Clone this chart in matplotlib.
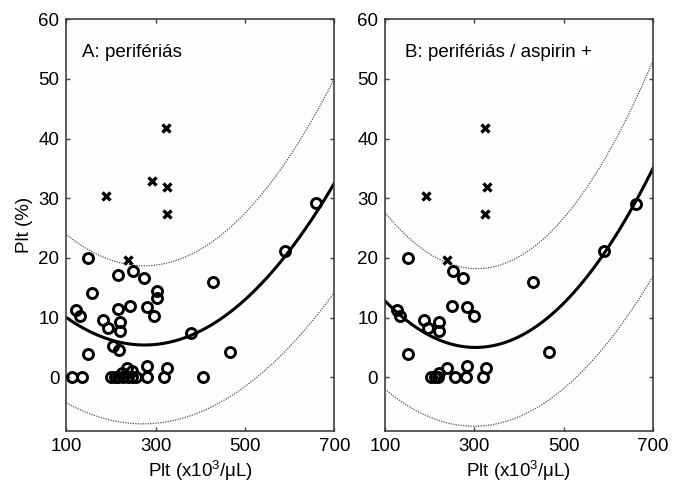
import numpy as np
import matplotlib
matplotlib.use('Agg')
import matplotlib.pyplot as plt

plt.rcParams['font.family'] = ['Liberation Sans', 'DejaVu Sans']
plt.rcParams['mathtext.fontset'] = 'custom'
plt.rcParams['mathtext.rm'] = 'Liberation Sans'
plt.rcParams['mathtext.default'] = 'regular'

# Panel A: circles (included) and crosses (excluded)
a_circ_x = [149, 216, 250, 274, 157, 304, 304, 429, 121, 130, 216, 242, 281, 296,
            183, 220, 194, 220, 379, 204, 218, 149, 466, 281, 325, 235, 248, 224,
            112, 136, 199, 209, 216, 227, 239, 246, 256, 281, 319, 405, 590, 660]
a_circ_y = [19.9, 17.2, 17.8, 16.7, 14.2, 14.4, 13.2, 16.0, 11.2, 10.2, 11.5, 11.9, 11.8, 10.2,
            9.6, 9.3, 8.2, 7.8, 7.4, 5.2, 4.6, 3.9, 4.3, 1.9, 1.5, 1.5, 1.1, 0.7,
            0, 0, 0, 0, 0, 0, 0, 0, 0, 0, 0, 0, 21.1, 29.2]
a_cross_x = [323, 189, 292, 326, 325, 239]
a_cross_y = [41.7, 30.3, 32.8, 31.8, 27.4, 19.7]

# Panel B
b_circ_x = [151, 253, 275, 432, 590, 127, 133, 249, 283, 299, 188, 221, 197, 221,
            152, 468, 283, 327, 238, 221, 202, 212, 219, 257, 281, 320, 662]
b_circ_y = [19.9, 17.8, 16.7, 16.0, 21.1, 11.2, 10.2, 11.9, 11.8, 10.2, 9.6, 9.3, 8.2, 7.8,
            3.9, 4.3, 1.9, 1.5, 1.5, 0.7, 0, 0, 0, 0, 0, 0, 29.1]
b_cross_x = [325, 192, 329, 325, 239]
b_cross_y = [41.7, 30.3, 31.8, 27.4, 19.7]

# quadratic fit curve and band, read at x = 100, 300, 700
curve_x = [100, 300, 700]
a_fit = [10.0, 5.5, 32.5]
a_upper = [23.9, 18.8, 50.0]
a_lower = [-4.3, -7.7, 14.2]
b_fit = [12.8, 5.0, 35.0]
b_upper = [27.6, 18.2, 53.0]
b_lower = [-2.0, -8.2, 16.9]

xticks = [100, 300, 500, 700]
yticks = [0, 10, 20, 30, 40, 50, 60]

fig = plt.figure(figsize=(6.74, 4.84), dpi=100)
ax1 = fig.add_axes([0.0985, 0.1095, 0.3975, 0.851])
ax2 = fig.add_axes([0.5712, 0.1095, 0.3976, 0.851])

panels = [
    (ax1, a_circ_x, a_circ_y, a_cross_x, a_cross_y, a_fit, a_upper, a_lower, 'A: perifériás', 136),
    (ax2, b_circ_x, b_circ_y, b_cross_x, b_cross_y, b_fit, b_upper, b_lower, 'B: perifériás / aspirin +', 145),
]

xs = np.linspace(100, 700, 300)
for ax, cx, cy, kx, ky, fit, up, lo, title, tx in panels:
    ax.set_facecolor('#fdfdfd')
    for vals, lw, col in [(up, 0.9, '#555555'), (lo, 0.9, '#555555'), (fit, 2.2, 'black')]:
        coef = np.polyfit(curve_x, vals, 2)
        line, = ax.plot(xs, np.polyval(coef, xs), lw=lw, color=col, zorder=2)
        if vals is not fit:
            line.set_dashes((1, 1))
    ax.plot(cx, cy, 'o', ms=7.2, mfc='none', mec='black', mew=2.1, zorder=3)
    ax.plot(kx, ky, 'x', ms=5.5, mec='black', mew=2.4, zorder=3)
    ax.text(tx, 53.7, title, fontsize=13.5, ha='left', va='baseline',
            bbox=dict(facecolor='white', edgecolor='none', pad=2))
    ax.set_xlim(100, 700)
    ax.set_ylim(-9, 60)
    ax.set_xticks(xticks)
    ax.set_yticks(yticks)
    ax.tick_params(direction='in', length=3, width=1, top=True, right=True,
                   labelsize=13.5, color='#404040', pad=5)
    for s in ax.spines.values():
        s.set_color('#404040')
        s.set_linewidth(1.2)
    ax.set_xlabel('Plt (x10$^3$/μL)', fontsize=13.5, labelpad=3)

ax1.set_ylabel('Plt (%)', fontsize=13.5, labelpad=4)

fig.savefig('out.png', dpi=100)
